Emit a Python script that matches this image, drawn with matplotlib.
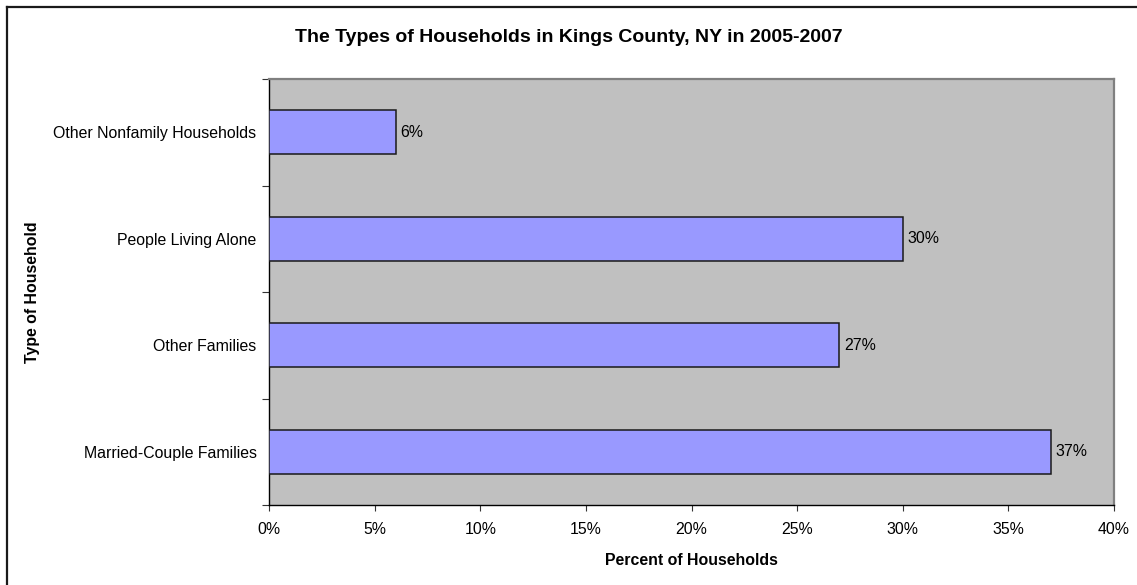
import matplotlib.pyplot as plt
import matplotlib as mpl
from matplotlib.lines import Line2D
import numpy as np

# data
categories = ["Married-Couple Families", "Other Families", "People Living Alone", "Other Nonfamily Households"]
percents = [37, 27, 30, 6]
x_ticks = [0, 5, 10, 15, 20, 25, 30, 35, 40]

mpl.rcParams['font.family'] = ['Liberation Sans', 'DejaVu Sans']
mpl.rcParams['font.size'] = 11.4

W, H = 1137, 585
fig = plt.figure(figsize=(W / 100, H / 100), dpi=100)
fig.patch.set_facecolor('white')

# plot area in pixel coords
left, right, top, bottom = 269, 1114, 79, 505
ax = fig.add_axes([left / W, 1 - bottom / H, (right - left) / W, (bottom - top) / H])
ax.set_facecolor('#c0c0c0')

y = np.arange(len(categories))
ax.barh(y, percents, height=0.41, color='#9999ff', edgecolor='#1a1a1a', linewidth=1.1, zorder=3)

for yi, v in zip(y, percents):
    ax.annotate(f"{v}%", (v, yi), xytext=(3.5, 0), textcoords='offset points',
                va='center', ha='left', fontsize=11.4)

ax.set_xlim(0, 40)
ax.set_ylim(-0.5, len(categories) - 0.5)
ax.set_xticks(x_ticks)
ax.set_xticklabels([f"{t}%" for t in x_ticks])
ax.set_yticks(y)
ax.set_yticklabels(categories)
ax.set_yticks(np.arange(len(categories) + 1) - 0.5, minor=True)
ax.tick_params(axis='y', which='major', length=0, pad=9)
ax.tick_params(axis='y', which='minor', length=5, width=0.8, color='#333333')
ax.tick_params(axis='x', length=4, width=0.8, pad=8, color='#333333')

for s in ['left', 'bottom']:
    ax.spines[s].set_color('black')
    ax.spines[s].set_linewidth(1.0)
for s in ['top', 'right']:
    ax.spines[s].set_color('#808080')
    ax.spines[s].set_linewidth(1.6)

ax.set_xlabel("Percent of Households", fontweight='bold', fontsize=11.4, labelpad=12)
ax.set_ylabel("Type of Household", fontweight='bold', fontsize=11.4)
ax.yaxis.set_label_coords(-(left - 40) / (right - left), 0.5)

fig.text(0.5, 1 - 37 / H, "The Types of Households in Kings County, NY in 2005-2007",
         ha='center', va='center', fontweight='bold', fontsize=14)

# chart border (left and top only visible)
fig.add_artist(Line2D([7 / W, 7 / W], [0, 1 - 7 / H], color='#1a1a1a', linewidth=1.6, transform=fig.transFigure))
fig.add_artist(Line2D([7 / W, 1], [1 - 7 / H, 1 - 7 / H], color='#1a1a1a', linewidth=1.6, transform=fig.transFigure))

fig.savefig('out.png', dpi=100)
